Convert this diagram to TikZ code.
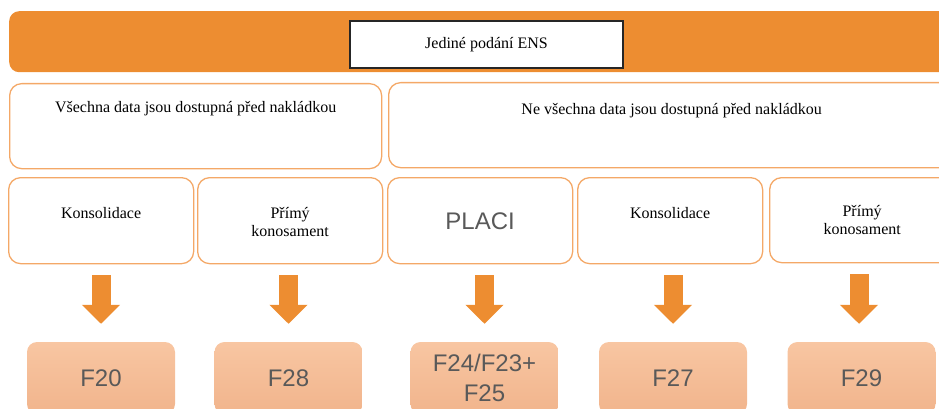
\documentclass[tikz,border=0pt]{standalone}
\usepackage{fontspec}
\setmainfont{Liberation Serif}
\setsansfont{Liberation Sans}
\usetikzlibrary{arrows.meta,positioning}
\definecolor{ensorange}{HTML}{ED8D31}
\definecolor{ensline}{HTML}{F4A867}
\definecolor{enspeachtop}{HTML}{F8C6A2}
\definecolor{enspeachbot}{HTML}{F1B48C}
\definecolor{ensgray}{HTML}{595959}
\tikzset{
  bar/.style={fill=ensorange, rounded corners=10pt, anchor=north west, inner sep=0pt},
  titlebox/.style={draw=black!85, line width=1.4pt, fill=white, inner sep=0pt,
    font=\fontsize{16}{18}\selectfont},
  case/.style={draw=ensline, line width=1.3pt, rounded corners=12pt, fill=white,
    anchor=north west, inner sep=0pt, minimum width=185pt, minimum height=86pt},
  casetext/.style={anchor=base, align=center, inner sep=0pt,
    font=\fontsize{16}{18}\selectfont},
  form/.style={rounded corners=10pt, top color=enspeachtop, bottom color=enspeachbot,
    text=ensgray, align=center, inner sep=0pt, minimum width=148pt, minimum height=72pt,
    font=\sffamily\fontsize{24}{30}\selectfont},
  flow/.style={draw=ensorange, line width=19pt, -{Triangle[width=37pt, length=19pt]},
    shorten <=11pt, shorten >=18pt}
}

\begin{document}
\begin{tikzpicture}[x=1pt, y=-1pt]
			%%%%% START %%%%%
			\clip (0, 0) rectangle (939, 409);
			
			\node[bar, minimum width=956pt, minimum height=61pt] (bar) at (9, 11) {};
			\node[titlebox, minimum width=273pt, minimum height=47pt] (title) at (486.5, 44.5) {Jediné podání ENS};
			
			\node[case, minimum width=372pt, minimum height=85pt] (alldata) at (9, 83) {};
			\node[case, minimum width=566pt, minimum height=85pt] (partdata) at (388, 82) {};
			\node[casetext] (alltext) at ([yshift=-30pt]alldata.north) {Všechna data jsou dostupná před nakládkou};
			\node[casetext] (parttext) at ([yshift=-32pt]partdata.north) {Ne všechna data jsou dostupná před nakládkou};
			
			\node[case] (kons1) at (8, 177) {};
			\node[case] (bl1) at (197, 177) {};
			\node[case] (placi) at (387, 177) {};
			\node[case] (kons2) at (577, 177) {};
			\node[case, minimum height=85pt] (bl2) at (769, 177) {};
			
			% base of a two-line text is its last line
			\node[casetext] (kons1text) at ([yshift=-41pt]kons1.north) {Konsolidace};
			\node[casetext] (bl1text) at ([yshift=-59pt]bl1.north) {Přímý\\konosament};
			\node[casetext, text=ensgray, font=\sffamily\fontsize{24}{28}\selectfont] (placitext) at ([yshift=-52pt]placi.north) {PLACI};
			\node[casetext] (kons2text) at ([yshift=-41pt]kons2.north) {Konsolidace};
			\node[casetext] (bl2text) at ([yshift=-57pt]bl2.north) {Přímý\\konosament};
			
			\node[form] (f20) at (101, 378) {F20};
			\node[form] (f28) at (288.5, 378) {F28};
			\node[form] (f24) at (484.5, 378) {F24/F23+\\F25};
			\node[form] (f27) at (673, 378) {F27};
			\node[form] (f29) at (861.5, 378) {F29};
			
			\draw[flow] (f20.north |- kons1.south) -- (f20.north);
			\draw[flow] (f28.north |- bl1.south) -- (f28.north);
			\draw[flow] (f24.north |- placi.south) -- (f24.north);
			\draw[flow] (f27.north |- kons2.south) -- (f27.north);
			\draw[flow] ([xshift=-2.5pt]f29.north |- bl2.south) -- ([xshift=-2.5pt]f29.north);
			%%%%% END %%%%%
\end{tikzpicture}
\end{document}
